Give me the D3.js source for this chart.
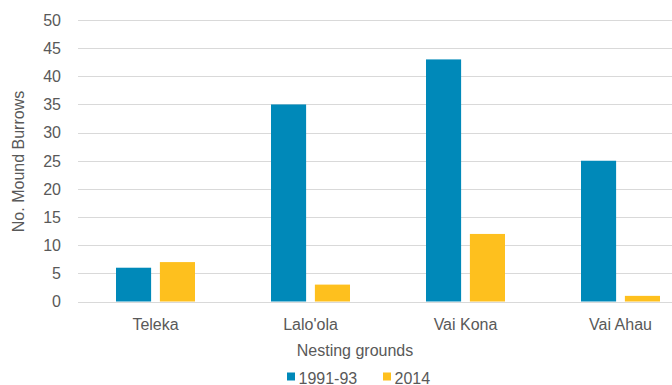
<!DOCTYPE html>
<html><head><meta charset="utf-8">
<script src="https://cdn.jsdelivr.net/npm/d3@7"></script>
<style>
html,body{margin:0;padding:0;background:#fff;}
svg{display:block;}
text{font-family:"Liberation Sans",Arial,sans-serif;fill:#595959;}
</style></head>
<body>
<svg id="c" width="672" height="385"></svg>
<script>
const categories = ["Teleka", "Lalo'ola", "Vai Kona", "Vai Ahau"];
const seriesNames = ["1991-93", "2014"];
const values1991 = [6, 35, 43, 25];
const values2014 = [7, 3, 12, 1];
const yTicks = [0, 5, 10, 15, 20, 25, 30, 35, 40, 45, 50];
const colors = ["#0089b9", "#fec01e"];

const svg = d3.select("#c");
const x = d3.scaleBand().domain(categories).range([78, 698]).padding(0);
const xs = d3.scaleBand().domain(seriesNames).range([38, 117]).paddingInner(0.2);
const y = d3.scaleLinear().domain([0, 50]).range([301.5, 20]);

// gridlines
svg.append("g").selectAll("line").data(yTicks).join("line")
  .attr("x1", 78).attr("x2", 672)
  .attr("y1", d => Math.round(y(d)) + 0.5).attr("y2", d => Math.round(y(d)) + 0.5)
  .attr("stroke", "#d9d9d9").attr("stroke-width", 1);

// y tick labels
svg.append("g").selectAll("text").data(yTicks).join("text")
  .attr("x", 61).attr("y", d => y(d)).attr("dy", "0.36em")
  .attr("text-anchor", "end").style("font-size", "16px")
  .text(d => d);

// bars
const series = [values1991, values2014];
series.forEach((vals, si) => {
  svg.append("g").selectAll("rect").data(categories).join("rect")
    .attr("x", c => x(c) + xs(seriesNames[si]))
    .attr("width", xs.bandwidth())
    .attr("y", (c, i) => y(vals[i]))
    .attr("height", (c, i) => y(0) - y(vals[i]))
    .attr("fill", colors[si]);
});

// x category labels
svg.append("g").selectAll("text").data(categories).join("text")
  .attr("x", c => x(c) + x.bandwidth() / 2).attr("y", 329.5)
  .attr("text-anchor", "middle").style("font-size", "16px")
  .text(c => c);

// axis titles
svg.append("text").attr("x", 355).attr("y", 355.5)
  .attr("text-anchor", "middle").style("font-size", "16px").text("Nesting grounds");
svg.append("text").attr("transform", "translate(24,161.5) rotate(-90)")
  .attr("text-anchor", "middle").style("font-size", "16px").text("No. Mound Burrows");

// legend
const legX = [287, 383];
const leg = svg.append("g").selectAll("g").data(seriesNames).join("g")
  .attr("transform", (d, i) => `translate(${legX[i]},0)`);
leg.append("rect").attr("x", 0).attr("y", 372.5).attr("width", 8).attr("height", 8)
  .attr("fill", (d, i) => colors[i]);
leg.append("text").attr("x", 11.5).attr("y", 383.5).style("font-size", "16px").text(d => d);
</script>
</body></html>
